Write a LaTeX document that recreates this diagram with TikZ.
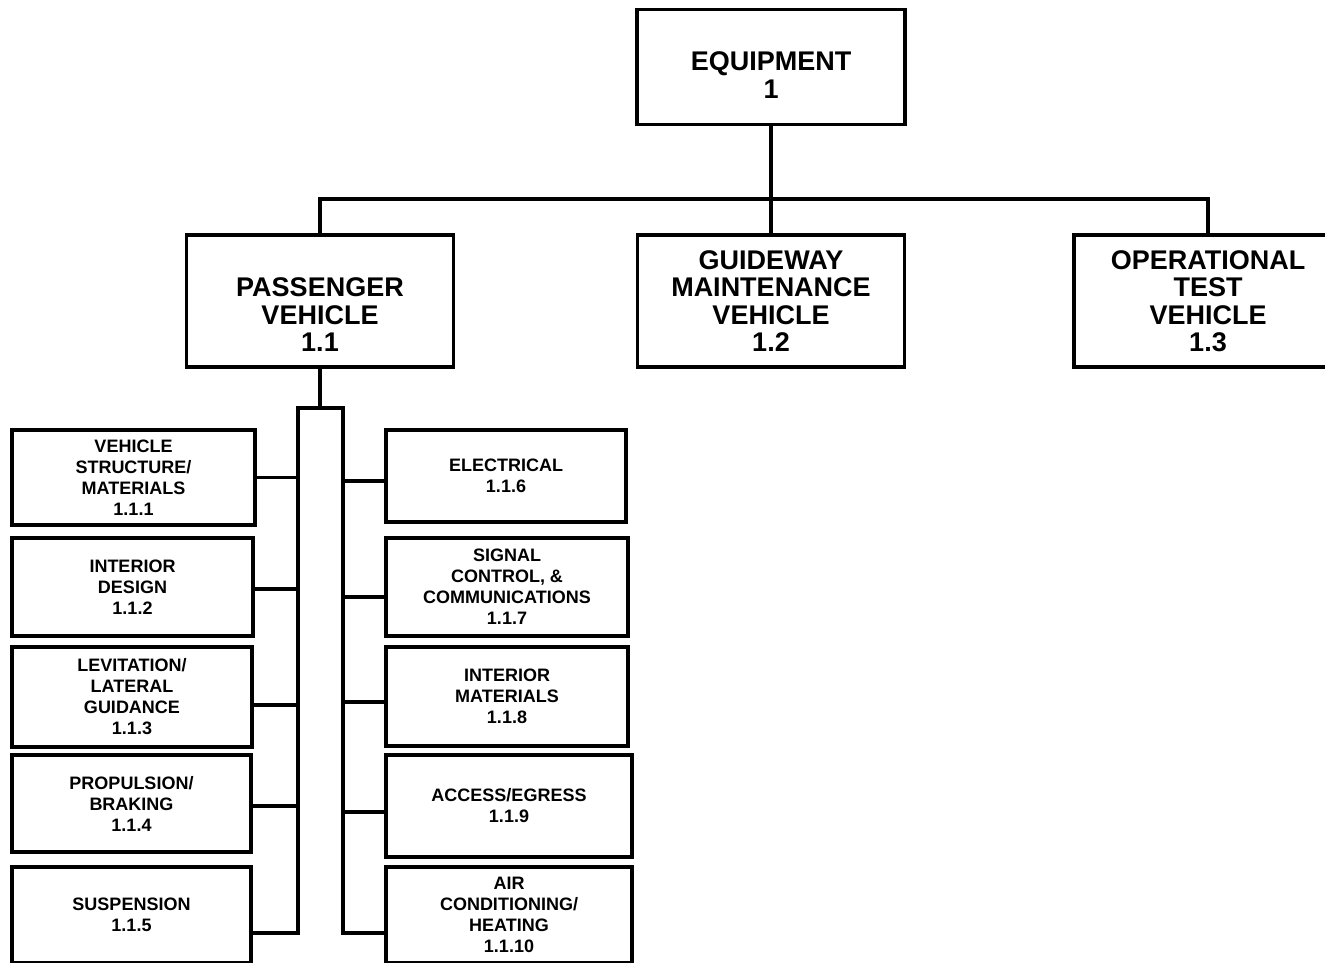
\documentclass[tikz,border=0pt]{standalone}
\usepackage{fontspec}
\setmainfont{Liberation Sans}
\begin{document}
\begin{tikzpicture}[x=1pt,y=-1pt,line width=3.5pt,
    bigbox/.style={draw, line width=3.5pt, align=center, inner sep=0pt,
      font=\fontsize{27}{27.5}\selectfont\bfseries},
    smallbox/.style={draw, line width=3.5pt, align=center, inner sep=0pt,
      font=\fontsize{18}{21}\selectfont\bfseries}]
  \useasboundingbox (0,0) rectangle (1325,962);

  % Ebene 1
  \node[bigbox, minimum width=268pt, minimum height=115pt] (eq) at (771,67) {\mbox{\vphantom{E}}\\[-11.5pt]EQUIPMENT\\1};

  % Ebene 2
  \node[bigbox, minimum width=267pt, minimum height=132pt] (pv) at (320,301) {\mbox{\vphantom{P}}\\PASSENGER\\VEHICLE\\1.1};
  \node[bigbox, minimum width=267pt, minimum height=132pt] (gv) at (771,301) {GUIDEWAY\\MAINTENANCE\\VEHICLE\\1.2};
  \node[bigbox, minimum width=268pt, minimum height=132pt] (ov) at (1208,301) {OPERATIONAL\\TEST\\VEHICLE\\1.3};

  \coordinate (bus) at (771,199);
  \draw (eq.south) -- (gv.north);
  \draw (pv.north) |- (bus) -| (ov.north);

  % Ebene 3 links
  \node[smallbox, minimum width=243pt, minimum height=95pt] (s1) at (133.5,477.5) {VEHICLE\\STRUCTURE/\\MATERIALS\\1.1.1};
  \node[smallbox, minimum width=241pt, minimum height=98pt] (s2) at (132.5,587) {INTERIOR\\DESIGN\\1.1.2};
  \node[smallbox, minimum width=240pt, minimum height=100pt] (s3) at (132,697) {LEVITATION/\\LATERAL\\GUIDANCE\\1.1.3};
  \node[smallbox, minimum width=239pt, minimum height=97pt] (s4) at (131.5,803.5) {PROPULSION/\\BRAKING\\1.1.4};
  \node[smallbox, minimum width=239pt, minimum height=96pt] (s5) at (131.5,915) {SUSPENSION\\1.1.5};

  % Ebene 3 rechts
  \node[smallbox, minimum width=240pt, minimum height=92pt] (s6) at (506,476) {ELECTRICAL\\1.1.6};
  \node[smallbox, minimum width=242pt, minimum height=98pt] (s7) at (507,587) {SIGNAL\\CONTROL, \&\\COMMUNICATIONS\\1.1.7};
  \node[smallbox, minimum width=242pt, minimum height=99pt] (s8) at (507,696.5) {INTERIOR\\MATERIALS\\1.1.8};
  \node[smallbox, minimum width=246pt, minimum height=102pt] (s9) at (509,806) {ACCESS/EGRESS\\1.1.9};
  \node[smallbox, minimum width=246pt, minimum height=96pt] (s10) at (509,915) {AIR\\CONDITIONING/\\HEATING\\1.1.10};

  % Verteiler
  \coordinate (spL) at (298,408);
  \coordinate (spR) at (343,408);
  \draw (pv.south) -- (pv.south |- spL);
  \draw[line join=miter] ([yshift=-18pt]s5.east) -| (spL) -- (spR) |- ([yshift=-18pt]s10.west);
  \foreach \n/\d in {s1/0, s2/2, s3/8, s4/2.5} {
    \draw ([yshift=-\d pt]\n.east) -| (spL);
  }
  \foreach \n/\d in {s6/5, s7/10, s8/5.5, s9/6} {
    \draw ([yshift=-\d pt]\n.west) -| (spR);
  }

\end{tikzpicture}
\end{document}
